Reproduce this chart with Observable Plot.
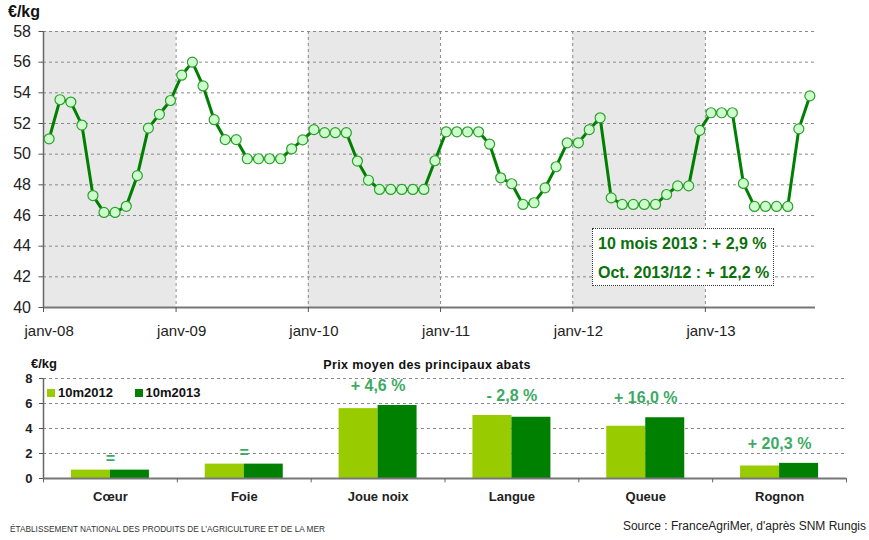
<!DOCTYPE html>
<html><head><meta charset="utf-8">
<script src="https://cdn.jsdelivr.net/npm/d3@7"></script>
<script src="https://cdn.jsdelivr.net/npm/@observablehq/plot@0.6"></script>
<style>
body{margin:0;background:#fff;font-family:"Liberation Sans",Arial,sans-serif;}
#wrap{position:relative;width:869px;height:540px;overflow:hidden;background:#fff;}
.abs{position:absolute;white-space:nowrap;}
.lg{display:inline-block;width:8px;height:8px;margin-right:3px;vertical-align:0px;}
</style></head><body>
<div id="wrap">
  <div id="top" class="abs" style="left:0;top:0"></div>
  <div id="bot" class="abs" style="left:0;top:350px"></div>
  <div class="abs" style="left:8px;top:2px;font-weight:bold;font-size:16px;color:#111;line-height:20px">€/kg</div>
  <div class="abs" style="left:592px;top:228px;width:182px;height:58px;border:1px dotted #333;background:#fff;box-sizing:border-box;color:#0a700a;font-weight:bold;font-size:16px;line-height:29px;padding:0 0 0 5px">
    <div>10 mois 2013 : + 2,9 %</div><div>Oct. 2013/12 : + 12,2 %</div>
  </div>
  <div class="abs" style="left:31px;top:356px;font-weight:bold;font-size:13px;color:#111">€/kg</div>
  <div class="abs" style="left:427px;top:358px;transform:translateX(-50%);font-weight:bold;font-size:12.5px;letter-spacing:0.4px;color:#111">Prix moyen des principaux abats</div>
  <div class="abs" style="left:47px;top:385px;font-weight:bold;font-size:13px;color:#111;line-height:16px">
    <span class="lg" style="background:#99cc00"></span>10m2012
    <span class="lg" style="background:#008000;margin-left:18px"></span>10m2013
  </div>
  <svg class="abs" style="left:0;top:505px" width="869" height="35">
    <text x="10" y="27" textLength="315" lengthAdjust="spacingAndGlyphs" font-size="8.5" fill="#333" font-family="Liberation Sans, Arial">ÉTABLISSEMENT NATIONAL DES PRODUITS DE L’AGRICULTURE ET DE LA MER</text>
    <text x="866" y="25" text-anchor="end" font-size="12" fill="#222" font-family="Liberation Sans, Arial">Source : FranceAgriMer, d'après SNM Rungis</text>
  </svg>
</div>
<script>
// ---- Top chart data: monthly price (€/kg), Jan 2008 .. Oct 2013
const firstMonth = [2008, 0];
const prix2008 = [51.0, 53.55, 53.4, 51.9, 47.3, 46.2, 46.2, 46.6, 48.6, 51.7, 52.6, 53.5];
const prix2009 = [55.15, 56.0, 54.45, 52.25, 50.95, 50.95, 49.7, 49.7, 49.7, 49.7, 50.35, 50.93];
const prix2010 = [51.6, 51.4, 51.4, 51.4, 49.55, 48.3, 47.7, 47.7, 47.7, 47.7, 47.7, 49.57];
const prix2011 = [51.46, 51.46, 51.46, 51.46, 50.65, 48.46, 48.07, 46.72, 46.83, 47.8, 49.18, 50.74];
const prix2012 = [50.74, 51.6, 52.37, 47.15, 46.72, 46.72, 46.72, 46.72, 47.37, 47.93, 47.93, 51.55];
const prix2013 = [52.7, 52.7, 52.7, 48.09, 46.59, 46.59, 46.59, 46.59, 51.65, 53.8];
const yTicksTop = [40, 42, 44, 46, 48, 50, 52, 54, 56, 58];
const shadedYears = [2008, 2010, 2012];

// ---- Bottom chart data
const categories = ["Cœur", "Foie", "Joue noix", "Langue", "Queue", "Rognon"];
const series = ["10m2012", "10m2013"];
const v2012 = [0.67, 1.15, 5.59, 5.04, 4.18, 1.0];
const v2013 = [0.67, 1.15, 5.84, 4.90, 4.86, 1.21];
const evolution = ["=", "=", "+ 4,6 %", "- 2,8 %", "+ 16,0 %", "+ 20,3 %"];
const yTicksBot = [0, 2, 4, 6, 8];

const FONT = "Liberation Sans, Arial, sans-serif";

// ---- build top table
const prix = [...prix2008, ...prix2009, ...prix2010, ...prix2011, ...prix2012, ...prix2013];
const start = new Date(Date.UTC(firstMonth[0], firstMonth[1], 1));
const end = d3.utcMonth.offset(start, prix.length);
const data = prix.map((v, i) => {
  const m = d3.utcMonth.offset(start, i), n = d3.utcMonth.offset(start, i + 1);
  return {date: new Date((+m + +n) / 2), prix: v};
});
const yearStarts = d3.utcYear.range(start, d3.utcYear.offset(end, 1)).filter(d => d < end);
const janMid = data.filter(d => d.date.getUTCMonth() === 0).map(d => d.date);
const bands = shadedYears.map(y => ({x1: new Date(Date.UTC(y, 0, 1)), x2: new Date(Date.UTC(y + 1, 0, 1))}));
const fmtYY = d3.utcFormat("%y");

const topPlot = Plot.plot({
  width: 869, height: 340,
  marginTop: 31, marginBottom: 33, marginLeft: 43, marginRight: 54,
  style: {fontFamily: FONT, fontSize: "15px", color: "#222", background: "transparent", overflow: "visible"},
  x: {type: "utc", domain: [start, end]},
  y: {domain: [40, 58]},
  marks: [
    Plot.rect(bands, {x1: "x1", x2: "x2", y1: 40, y2: 58, fill: "#e8e8e8"}),
    Plot.ruleY(yTicksTop.slice(1), {stroke: "#8a8a8a", strokeDasharray: "3,3"}),
    Plot.ruleX(yearStarts.slice(1), {stroke: "#8a8a8a", strokeDasharray: "3,3"}),
    Plot.ruleX([start], {stroke: "#666", strokeWidth: 1.5}),
    Plot.ruleY([40], {stroke: "#777", strokeWidth: 2}),
    Plot.axisY({ticks: yTicksTop, tickSize: 4.5, tickPadding: 8, fontSize: 16, label: null, stroke: "#555"}),
    Plot.axisX({ticks: yearStarts, tickSize: 5, tickFormat: () => "", label: null, stroke: "#555"}),
    Plot.axisX({ticks: janMid, tickSize: 0, tickPadding: 18, fontSize: 15, tickFormat: d => "janv-" + fmtYY(d), label: null}),
    Plot.line(data, {x: "date", y: "prix", stroke: "#008000", strokeWidth: 3}),
    Plot.dot(data, {x: "date", y: "prix", r: 5, fill: "#ccffcc", stroke: "#2f9e2f", strokeWidth: 1.2})
  ]
});
document.getElementById("top").appendChild(topPlot);

// ---- bottom
const rows = categories.map((c, i) => ({cat: c, v12: v2012[i], v13: v2013[i], evol: evolution[i], top: Math.max(v2012[i], v2013[i])}));
const W = 869, ML = 43, MR = 23;
const step = (W - ML - MR) / categories.length;
const bw = 39, gap = (step - 2 * bw) / 2;

const botPlot = Plot.plot({
  width: W, height: 160,
  marginTop: 28, marginBottom: 32, marginLeft: ML, marginRight: MR,
  style: {fontFamily: FONT, fontSize: "13px", fontWeight: "bold", color: "#222", background: "transparent", overflow: "visible"},
  x: {domain: categories, padding: 0, round: false, label: null},
  y: {domain: [0, 8], label: null},
  marks: [
    Plot.ruleY(yTicksBot.slice(1), {stroke: "#8a8a8a", strokeDasharray: "3,3"}),
    Plot.barY(rows, {x: "cat", y: "v12", fill: "#99cc00", insetLeft: gap, insetRight: step - gap - bw}),
    Plot.barY(rows, {x: "cat", y: "v13", fill: "#008000", insetLeft: gap + bw, insetRight: gap}),
    Plot.ruleY([0], {stroke: "#777", strokeWidth: 2}),
    Plot.ruleX([categories[0]], {dx: -step / 2, stroke: "#666", strokeWidth: 1.5}),
    Plot.ruleX(categories, {dx: -step / 2, y1: 0, y2: -0.35, stroke: "#666"}),
    Plot.ruleX([categories[categories.length - 1]], {dx: step / 2, y1: 0, y2: -0.35, stroke: "#666"}),
    Plot.axisY({ticks: yTicksBot, tickSize: 4, tickPadding: 7, label: null, stroke: "#555"}),
    Plot.axisX({tickSize: 0, tickPadding: 13, label: null}),
    Plot.text(rows.filter(r => r.evol !== "="), {x: "cat", y: "top", text: "evol", dy: -20, fill: "#3daa64", fontSize: 16, fontWeight: "bold"}),
    Plot.text(rows.filter(r => r.evol === "="), {x: "cat", y: "top", text: "evol", dy: -11, fill: "#3daa64", fontSize: 16, fontWeight: "bold"})
  ]
});
document.getElementById("bot").appendChild(botPlot);
</script>
</body></html>
